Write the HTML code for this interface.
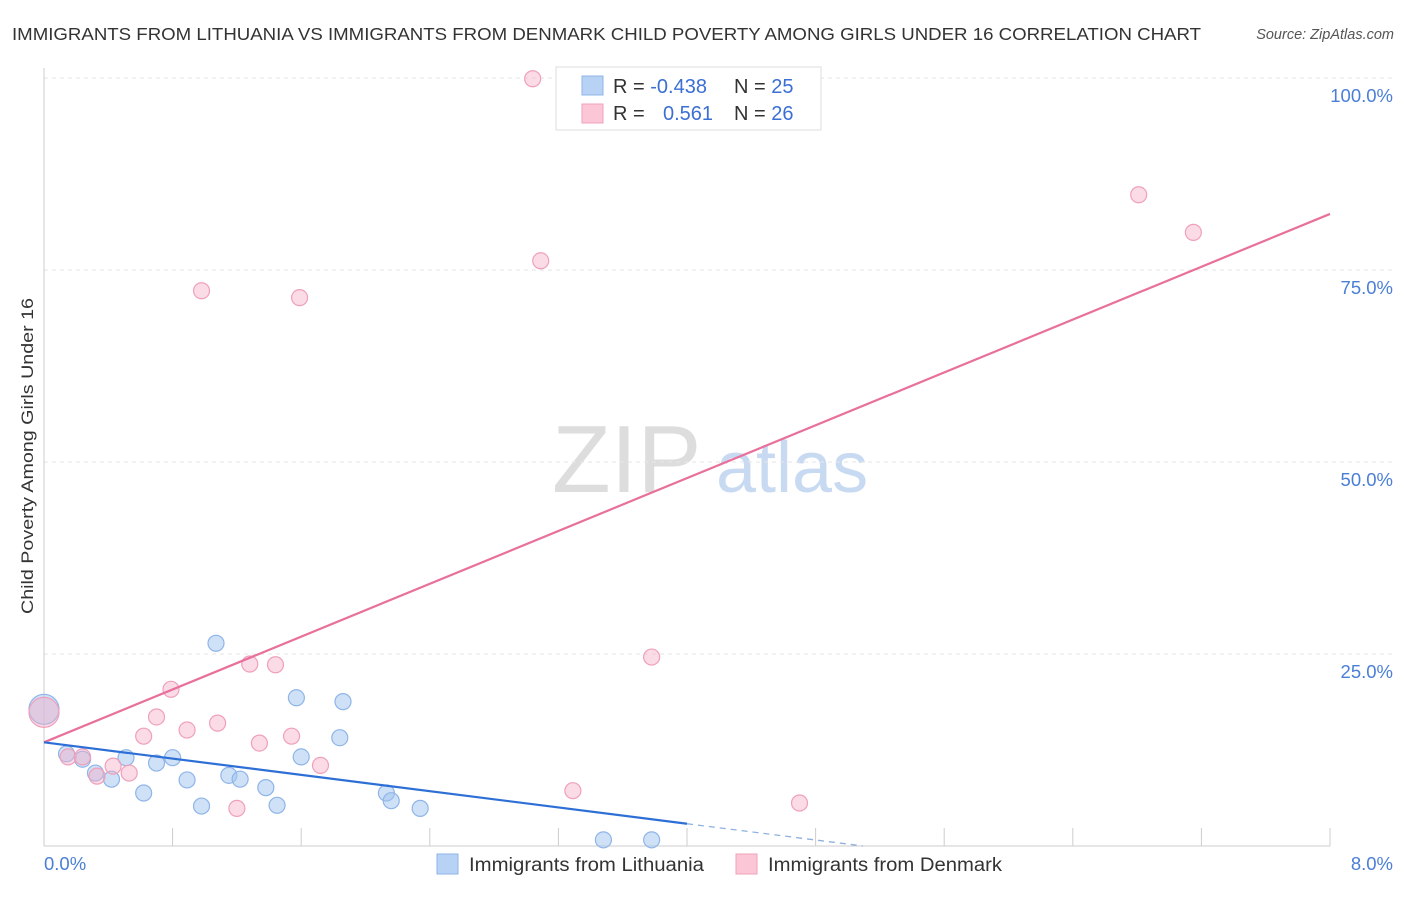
<!DOCTYPE html>
<html><head><meta charset="utf-8"><style>
body{margin:0;background:#fff;font-family:"Liberation Sans",sans-serif}
svg text{font-family:"Liberation Sans",sans-serif}
</style></head><body>
<svg id="chart" width="1406" height="892">
<text x="12" y="40" font-size="17.5" fill="#333" textLength="1189" lengthAdjust="spacingAndGlyphs">IMMIGRANTS FROM LITHUANIA VS IMMIGRANTS FROM DENMARK CHILD POVERTY AMONG GIRLS UNDER 16 CORRELATION CHART</text>
<text x="1394" y="39" font-size="14.5" fill="#555" font-style="italic" text-anchor="end">Source: ZipAtlas.com</text>
<text transform="translate(33,456) rotate(-90)" font-size="17" fill="#333" text-anchor="middle" textLength="316" lengthAdjust="spacingAndGlyphs">Child Poverty Among Girls Under 16</text>
<g><text x="552" y="492" font-size="96" fill="#ddd" font-family="Liberation Serif">ZIP</text><text x="716" y="492" font-size="72" fill="#c8daf2">atlas</text></g>
<g id="grid"></g><g id="marks"></g>
<g>
<rect x="556" y="67" width="265" height="63" fill="#fff" stroke="#ddd"/>
<rect x="582" y="76" width="21" height="19" fill="#b8d2f5" stroke="#8fb5e8"/>
<rect x="582" y="104" width="21" height="19" fill="#fbc7d6" stroke="#f0a0bb"/>
<text x="613" y="93" font-size="20" fill="#333">R = <tspan fill="#3b6fd4">-0.438</tspan></text>
<text x="734" y="93" font-size="20" fill="#333">N = <tspan fill="#3b6fd4">25</tspan></text>
<text x="613" y="120" font-size="20" fill="#333">R = <tspan x="663" fill="#3b6fd4">0.561</tspan></text>
<text x="734" y="120" font-size="20" fill="#333">N = <tspan fill="#3b6fd4">26</tspan></text>
</g>
<g>
<rect x="437" y="854" width="21" height="20" fill="#b8d2f5" stroke="#8fb5e8"/>
<text x="469" y="871" font-size="19" fill="#333" textLength="235" lengthAdjust="spacingAndGlyphs">Immigrants from Lithuania</text>
<rect x="736" y="854" width="21" height="20" fill="#fbc7d6" stroke="#f0a0bb"/>
<text x="768" y="871" font-size="19" fill="#333" textLength="234" lengthAdjust="spacingAndGlyphs">Immigrants from Denmark</text>
</g>
</svg>
<script>
const yTicks=[25,50,75,100];
const yTickLabels=["25.0%","50.0%","75.0%","100.0%"];
const xTicks=[0,0.8,1.6,2.4,3.2,4,4.8,5.6,6.4,7.2,8];
const ltX=[0,0.14,0.24,0.32,0.42,0.51,0.62,0.70,0.80,0.89,0.98,1.07,1.15,1.22,1.38,1.45,1.57,1.60,1.84,1.86,2.13,2.16,2.34,3.48,3.78];
const ltY=[17.8,12.0,11.3,9.5,8.7,11.5,6.9,10.8,11.5,8.6,5.2,26.4,9.2,8.7,7.6,5.3,19.3,11.6,14.1,18.8,6.9,5.9,4.9,0.8,0.8];
const dkX=[0,0.15,0.24,0.33,0.43,0.53,0.62,0.70,0.79,0.89,0.98,1.08,1.20,1.28,1.34,1.44,1.54,1.59,1.72,3.04,3.09,3.29,3.78,4.70,6.81,7.15];
const dkY=[17.4,11.6,11.6,9.1,10.4,9.5,14.3,16.8,20.4,15.1,72.3,16.0,4.9,23.7,13.4,23.6,14.3,71.4,10.5,99.9,76.2,7.2,24.6,5.6,84.8,79.9];
const dkTrend=[13.5,82.3]; // y at x=0 and x=8
const ltTrend=[13.5,2.9]; // y at x=0 and x=4
const X=v=>44+v*160.75, Y=v=>846-v*7.68;
const NS="http://www.w3.org/2000/svg";
function mk(p,t,a){const e=document.createElementNS(NS,t);for(const k in a)e.setAttribute(k,a[k]);p.appendChild(e);return e;}
const g=document.getElementById('grid'), m=document.getElementById('marks');
yTicks.forEach((t,i)=>{
 const l=mk(g,'line',{x1:44,x2:1393,y1:Y(t),y2:Y(t),stroke:'#e6e6e6','stroke-dasharray':'4,4'});
 
 
 const tx=mk(g,'text',{x:1393,y:Y(t)+24,'font-size':18.5,fill:'#4a7fd6','text-anchor':'end'});
 tx.textContent=yTickLabels[i];
 
 
});
const ax=mk(g,'line',{x1:44,x2:1330,y1:846,y2:846,stroke:'#ccc'});


const ay=mk(g,'line',{x1:44,x2:44,y1:68,y2:846,stroke:'#ccc'});


xTicks.forEach(t=>{const l=mk(g,'line',{x1:X(t),x2:X(t),y1:828,y2:846,stroke:'#ccc'});
 
 });
[[0,"0.0%","start",44],[8,"8.0%","end",1393]].forEach(a=>{const t=mk(g,'text',{x:a[3],y:870,'font-size':18.5,fill:'#4a7fd6','text-anchor':a[2]});t.textContent=a[1];
 
 });
function pts(xs,ys,fill,stroke,name){xs.forEach((x,i)=>{const c=mk(m,'circle',{cx:X(x),cy:Y(ys[i]),r:i==0?15:8,fill:fill,stroke:stroke,'stroke-width':1.2});
 
 });}
pts(ltX,ltY,'rgba(160,195,240,0.5)','#8fb5e8','lithuania-point');
pts(dkX,dkY,'rgba(245,175,200,0.45)','#f0a0bb','denmark-point');
const pl=mk(m,'line',{x1:X(0),y1:Y(dkTrend[0]),x2:X(8),y2:Y(dkTrend[1]),stroke:'#e8709a','stroke-width':2.2});


const sl=(ltTrend[1]-ltTrend[0])/4;
const bl=mk(m,'line',{x1:X(0),y1:Y(ltTrend[0]),x2:X(4),y2:Y(ltTrend[1]),stroke:'#2e6fd6','stroke-width':2.2});


const xe=-ltTrend[0]/sl;
const bd=mk(m,'line',{x1:X(4),y1:Y(ltTrend[1]),x2:X(xe),y2:Y(0),stroke:'#8fb0e0','stroke-width':1.3,'stroke-dasharray':'6,5'});


</script>
</body></html>
